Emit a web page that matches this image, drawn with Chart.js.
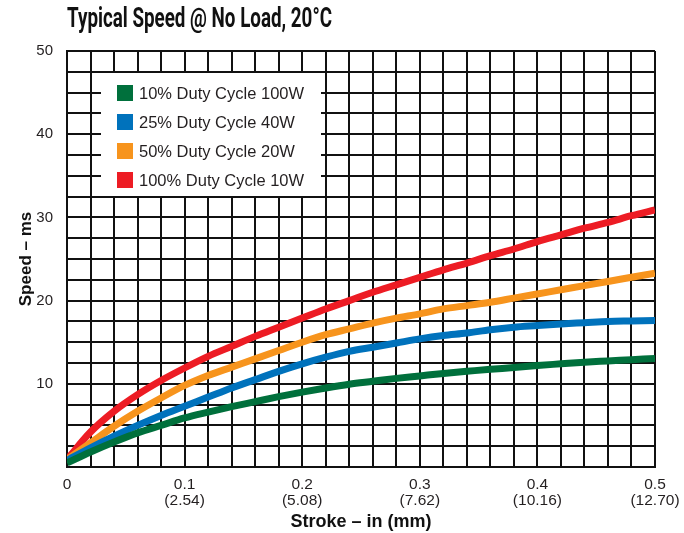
<!DOCTYPE html>
<html>
<head>
<meta charset="utf-8">
<title>Typical Speed @ No Load, 20°C</title>
<script src="https://cdn.jsdelivr.net/npm/chart.js@4.4.1/dist/chart.umd.min.js"></script>
<style>
  html, body { margin: 0; padding: 0; background: #fff; }
  #wrap { width: 684px; height: 533px; position: relative; }
  #chart-title {
    position: absolute; left: 67px; top: 5px; margin: 0;
    font-family: Roboto, "DejaVu Sans Condensed", sans-serif;
    font-weight: bold; font-size: 27px; line-height: 27px; color: #111;
    white-space: nowrap; transform-origin: 0 0;
  }
</style>
</head>
<body>
<div id="wrap">
  <h1 id="chart-title">Typical Speed @ No Load, 20°C</h1>
  <canvas id="speed-chart"></canvas>
</div>
<script>
// stroke positions (in), one per vertical grid line
var strokeIn = [0, 0.02, 0.04, 0.06, 0.08, 0.10, 0.12, 0.14, 0.16, 0.18, 0.20, 0.22, 0.24,
                0.26, 0.28, 0.30, 0.32, 0.34, 0.36, 0.38, 0.40, 0.42, 0.44, 0.46, 0.48, 0.50];

// speed (ms) per duty cycle
var duty10 = [0.5, 1.8, 3.0, 4.1, 5.0, 5.9, 6.6, 7.25, 7.85, 8.45, 9.0, 9.5, 9.95,
              10.3, 10.65, 10.95, 11.25, 11.5, 11.75, 11.95, 12.2, 12.4, 12.6, 12.75, 12.9, 13.05];
var duty25 = [0.8, 2.3, 3.7, 5.0, 6.2, 7.3, 8.4, 9.5, 10.5, 11.5, 12.4, 13.2, 13.9,
              14.4, 14.9, 15.4, 15.8, 16.1, 16.5, 16.8, 17.0, 17.2, 17.35, 17.5, 17.55, 17.6];
var duty50 = [0.9, 2.9, 4.9, 6.7, 8.3, 9.8, 11.0, 12.0, 13.0, 14.0, 15.0, 15.9, 16.6,
              17.3, 17.9, 18.4, 19.0, 19.4, 19.8, 20.3, 20.8, 21.3, 21.8, 22.3, 22.8, 23.3];
var duty100 = [0.9, 4.2, 6.7, 8.7, 10.4, 11.9, 13.3, 14.5, 15.7, 16.8, 17.9, 19.0, 20.0,
               21.0, 21.9, 22.8, 23.7, 24.5, 25.4, 26.2, 27.1, 27.9, 28.7, 29.4, 30.2, 30.9];

var seriesLabels = ["10% Duty Cycle 100W", "25% Duty Cycle 40W", "50% Duty Cycle 20W", "100% Duty Cycle 10W"];
var seriesColors = ["#00703c", "#0072bc", "#f7941d", "#ed1c24"];

var xTickLabels = ["0", ["0.1", "(2.54)"], ["0.2", "(5.08)"], ["0.3", "(7.62)"], ["0.4", "(10.16)"], ["0.5", "(12.70)"]];
var yTickLabels = ["", "10", "20", "30", "40", "50"];

// squeeze the title to the narrow face of the original
var titleEl = document.getElementById('chart-title');
titleEl.style.transform = 'scaleX(' + (265 / titleEl.getBoundingClientRect().width) + ')';

function toPoints(values) {
	return values.map(function(v, i) { return { x: strokeIn[i], y: v }; });
}

var allSeries = [duty10, duty25, duty50, duty100];

// legend sits in a white box inside the plot, over the grid
var boxLegend = {
	id: 'boxLegend',
	afterDraw: function(chart) {
		var ctx = chart.ctx;
		var area = chart.chartArea;
		var left = area.left + 34, top = area.top + 22;
		ctx.save();
		ctx.fillStyle = '#ffffff';
		ctx.fillRect(left, top, 220, 123);
		ctx.font = '16.5px "Liberation Sans", Arial, sans-serif';
		ctx.textBaseline = 'middle';
		chart.data.datasets.forEach(function(ds, i) {
			var cy = top + 20 + i * 29;
			ctx.fillStyle = ds.borderColor;
			ctx.fillRect(left + 16, cy - 8, 16, 16);
			ctx.fillStyle = '#231f20';
			ctx.fillText(ds.label, left + 38, cy + 1);
		});
		ctx.restore();
	}
};

new Chart(document.getElementById("speed-chart"), {
	type: 'line',
	data: {
		datasets: allSeries.map(function(s, i) {
			return {
				label: seriesLabels[i],
				data: toPoints(s),
				borderColor: seriesColors[i],
				backgroundColor: seriesColors[i],
				borderWidth: 7,
				pointRadius: 0,
				fill: false,
				cubicInterpolationMode: 'monotone'
			};
		})
	},
	options: {
		responsive: true,
		maintainAspectRatio: false,
		animation: false,
		layout: { padding: { left: 0, right: 0, top: 51, bottom: 0 } },
		plugins: {
			legend: { display: false },
			tooltip: { enabled: false },
			title: { display: false }
		},
		scales: {
			x: {
				type: 'linear',
				min: 0,
				max: 0.5,
				afterFit: function(s) { s.height = 66; s.paddingLeft = 0; s.paddingRight = 29; },
				grid: { color: '#111', lineWidth: 2, drawTicks: false },
				border: { color: '#111', width: 2 },
				ticks: {
					stepSize: 0.02,
					maxTicksLimit: 40,
					autoSkip: false,
					maxRotation: 0,
					padding: 10,
					color: '#231f20',
					font: { family: '"Liberation Sans", Arial, sans-serif', size: 15.5, lineHeight: 1.0 },
					callback: function(v, i) { return i % 5 === 0 ? xTickLabels[i / 5] : ''; }
				},
				title: {
					display: true,
					text: 'Stroke – in (mm)',
					color: '#111',
					font: { family: '"Liberation Sans", Arial, sans-serif', size: 18, weight: 'bold' },
					padding: { top: 0, bottom: 0 }
				}
			},
			y: {
				min: 0,
				max: 50,
				afterFit: function(s) { s.width = 67; },
				grid: { color: '#111', lineWidth: 2, drawTicks: false },
				border: { color: '#111', width: 2 },
				ticks: {
					stepSize: 2.5,
					maxTicksLimit: 40,
					autoSkip: false,
					padding: 14,
					color: '#231f20',
					font: { family: '"Liberation Sans", Arial, sans-serif', size: 15 },
					callback: function(v, i) { return i % 4 === 0 ? yTickLabels[i / 4] : ''; }
				},
				title: {
					display: true,
					text: 'Speed – ms',
					color: '#111',
					font: { family: '"Liberation Sans", Arial, sans-serif', size: 17, weight: 'bold' },
					padding: { top: 16, bottom: 0 }
				}
			}
		}
	},
	plugins: [boxLegend]
});
</script>
</body>
</html>
